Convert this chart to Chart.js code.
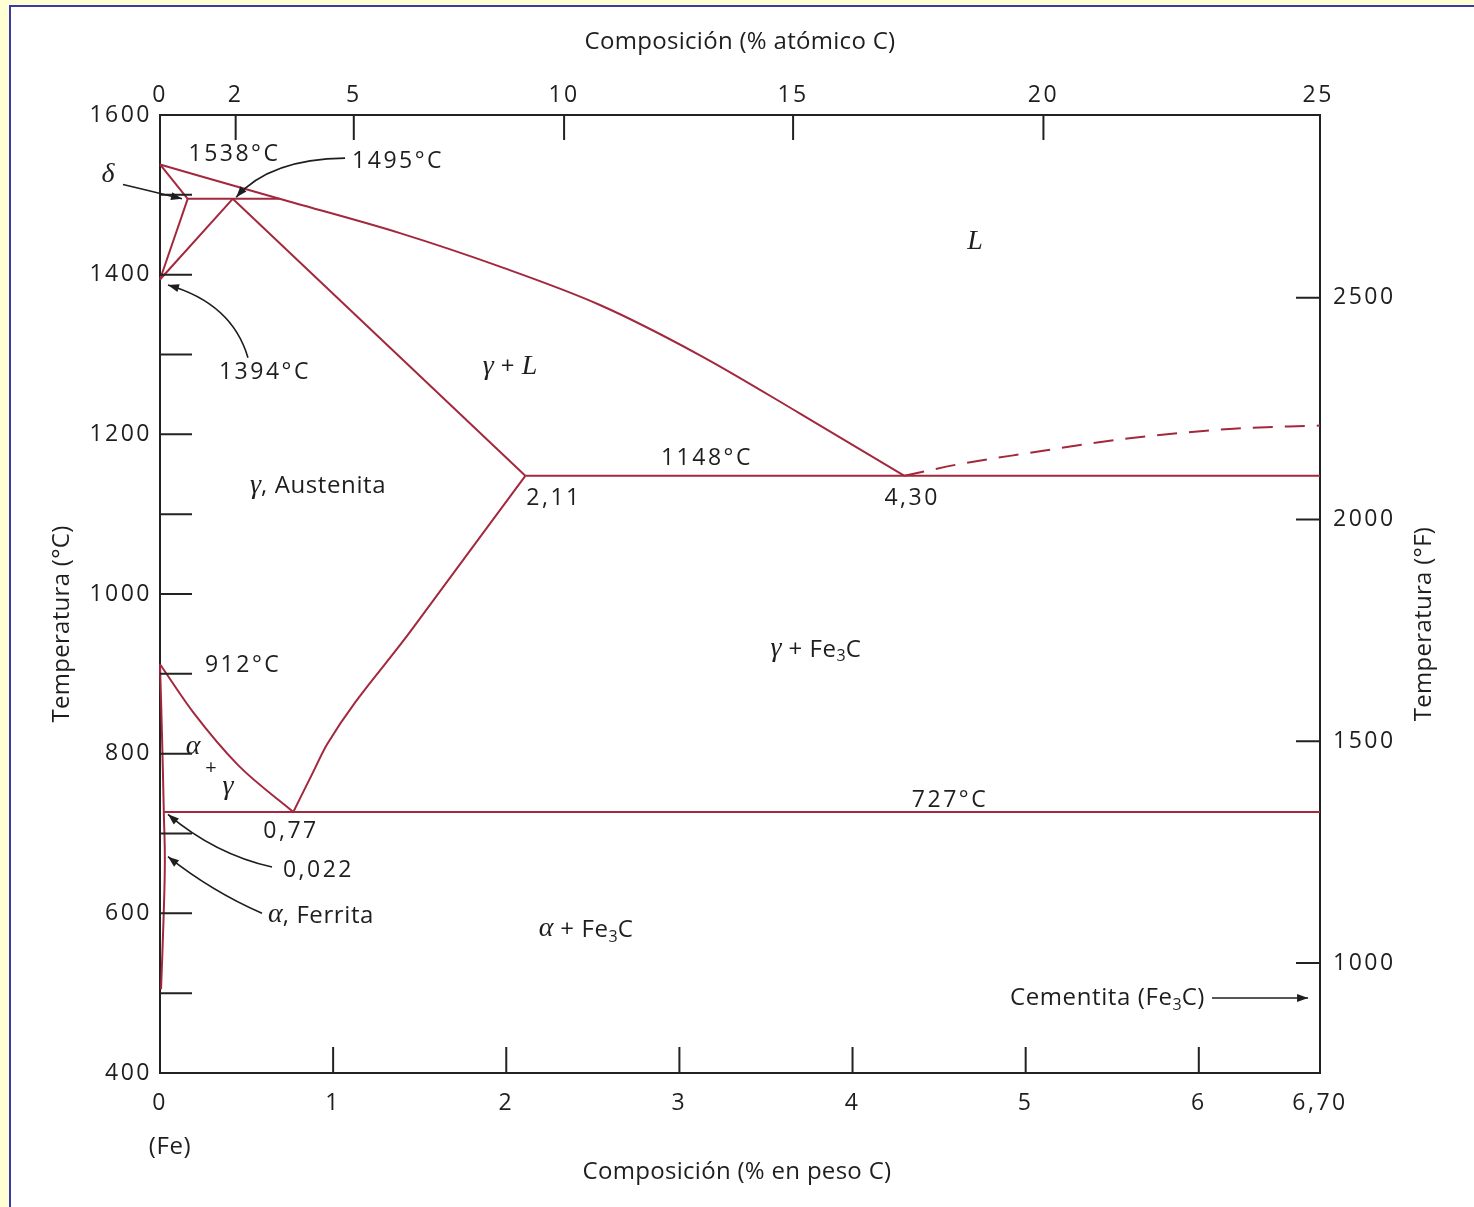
<!DOCTYPE html>
<html lang="es">
<head>
<meta charset="utf-8">
<title>Diagrama de fases hierro–carburo de hierro</title>
<script src="https://cdn.jsdelivr.net/npm/chart.js@4.4.1/dist/chart.umd.min.js"></script>
<style>
  html, body { margin: 0; padding: 0; width: 1474px; height: 1207px; overflow: hidden; background: #FFFFD6; }
  #sheet { position: absolute; left: 9px; top: 5px; width: 1520px; height: 1260px; background: #fff;
           border-left: 2px solid #3A3AA6; border-top: 2px solid #3A3AA6; }
  #c { position: absolute; left: 0; top: 0; }
</style>
</head>
<body>
<div id="sheet"></div>
<canvas id="c" width="1474" height="1207"></canvas>
<script>
// ---- Phase boundaries of the Fe–Fe3C system: [wt% C, °C] ----
const liquidus      = [[0,1538],[0.69,1495],[1.386,1452],[1.964,1410],[2.541,1362],[3.119,1299],[3.697,1226],[4.30,1148]];
const deltaSolidus  = [[0,1538],[0.16,1495]];
const deltaSolvus   = [[0.16,1495],[0,1394]];
const gammaDelta    = [[0,1394],[0.42,1495]];
const peritectic    = [[0.16,1495],[0.69,1495]];
const gammaSolidus  = [[0.42,1495],[2.11,1148]];
const eutectic      = [[2.11,1148],[6.7,1148]];
const cementiteLiq  = [[4.30,1148],[4.6,1162],[5.0,1176],[5.6,1195],[6.2,1207],[6.7,1211]];
const a3Line        = [[0,912],[0.191,852],[0.454,785],[0.77,727]];
const acmLine       = [[0.77,727],[0.88,775],[0.966,812],[1.453,955],[2.11,1148]];
const alphaSolvus   = [[0,912],[0.012,820],[0.022,727],[0.028,665],[0.02,590],[0.006,505]];
const eutectoid     = [[0.022,727],[6.7,727]];

// ---- Axis ticks ----
const weightTicks       = [0, 1, 2, 3, 4, 5, 6, 6.7];
const weightTickLabels  = ['0', '1', '2', '3', '4', '5', '6', '6,70'];
const atomicTicks       = [0, 2, 5, 10, 15, 20, 25];
const celsiusTicks      = [400, 600, 800, 1000, 1200, 1400, 1600];
const celsiusMinorTicks = [500, 600, 700, 800, 900, 1000, 1100, 1200, 1300, 1400, 1500];
const fahrenheitTicks   = [1000, 1500, 2000, 2500];

// atomic % C -> weight % C (Fe = 55.845, C = 12.011)
const atToWt = a => { const f = a / 100; return 100 * 12.011 * f / (12.011 * f + 55.845 * (1 - f)); };
const cToF = c => c * 9 / 5 + 32;

// ---- Region labels and call-outs (positions in wt% C / °C) ----
const notes = [
  { at: [0.43, 1550],  parts: [['1538°C', 'num']] },
  { at: [1.375, 1542], parts: [['1495°C', 'num']] },
  { at: [-0.30, 1524], parts: [['δ', 'gr']] },
  { at: [0.606, 1278], parts: [['1394°C', 'num']] },
  { at: [4.707, 1440], parts: [['L', 'gr']] },
  { at: [2.022, 1284], parts: [['γ', 'gr'], [' + ', 'txt'], ['L', 'gr']] },
  { at: [0.913, 1135], parts: [['γ', 'gr'], [', Austenita', 'txt']] },
  { at: [3.159, 1170], parts: [['1148°C', 'num']] },
  { at: [2.276, 1120], parts: [['2,11', 'num']] },
  { at: [4.344, 1120], parts: [['4,30', 'num']] },
  { at: [0.48, 911],   parts: [['912°C', 'num']] },
  { at: [3.789, 930],  parts: [['γ', 'gr'], [' + Fe', 'txt'], ['3', 'sub'], ['C', 'txt']] },
  { at: [0.191, 807],  parts: [['α', 'gr']] },
  { at: [0.295, 782],  parts: [['+', 'small']] },
  { at: [0.393, 757],  parts: [['γ', 'gr']] },
  { at: [4.563, 742],  parts: [['727°C', 'num']] },
  { at: [0.757, 702],  parts: [['0,77', 'num']] },
  { at: [0.71, 654],   parts: [['0,022', 'num']], align: 'left' },
  { at: [0.624, 597],  parts: [['α', 'gr'], [', Ferrita', 'txt']], align: 'left' },
  { at: [2.461, 579],  parts: [['α', 'gr'], [' + Fe', 'txt'], ['3', 'sub'], ['C', 'txt']] },
  { at: [6.036, 494],  parts: [['Cementita (Fe', 'txt'], ['3', 'sub'], ['C)', 'txt']], align: 'right' },
  { at: [0.058, 307],  parts: [['(Fe)', 'txt']] }
];

const pointers = [
  { from: [1.069, 1546], via: [0.635, 1545], to: [0.44, 1497] },
  { from: [-0.214, 1513], via: [-0.058, 1505], to: [0.127, 1495] },
  { from: [0.508, 1296], via: [0.416, 1364], to: [0.046, 1387] },
  { from: [0.647, 658],  via: [0.318, 674],  to: [0.046, 724] },
  { from: [0.589, 600],  via: [0.295, 628],  to: [0.046, 671] },
  { from: [6.076, 494],  via: [6.35, 494],   to: [6.631, 494] }
];

// ---- Styling ----
const RED = '#A3283D';
const INK = '#1E1E1E';
const AXIS = '#222';
const SANS = '"Open Sans", "Liberation Sans", sans-serif';
const SERIF = '"Liberation Serif", "DejaVu Serif", serif';
const STYLES = {
  txt:   { font: `24px ${SANS}`, spacing: '0.6px', dy: 0 },
  num:   { font: `23px ${SANS}`, spacing: '2.5px', dy: 0 },
  gr:    { font: `italic 28px ${SERIF}`, spacing: '0px', dy: -1 },
  sub:   { font: `16px ${SANS}`, spacing: '0px', dy: 7 },
  small: { font: `20px ${SANS}`, spacing: '0px', dy: 0 }
};

const toXY = arr => arr.map(([x, y]) => ({ x, y }));
const boundary = (label, data, extra) => Object.assign({
  label, data: toXY(data), borderColor: RED, borderWidth: 2, pointRadius: 0,
  tension: 0, fill: false, clip: false, xAxisID: 'x', yAxisID: 'y'
}, extra || {});
const smooth = { cubicInterpolationMode: 'monotone' };

function drawRich(ctx, parts, px, py, align) {
  let total = 0;
  const widths = parts.map(([t, k]) => {
    ctx.font = STYLES[k].font; ctx.letterSpacing = STYLES[k].spacing;
    const w = ctx.measureText(t).width; total += w; return w;
  });
  let cx = align === 'left' ? px : align === 'right' ? px - total : px - total / 2;
  ctx.textAlign = 'left';
  ctx.textBaseline = 'middle';
  parts.forEach(([t, k], i) => {
    ctx.font = STYLES[k].font; ctx.letterSpacing = STYLES[k].spacing;
    ctx.fillText(t, cx, py + STYLES[k].dy);
    cx += widths[i];
  });
  ctx.letterSpacing = '0px';
}

function drawPointer(ctx, p0, c, p2) {
  ctx.beginPath();
  ctx.moveTo(p0[0], p0[1]);
  ctx.quadraticCurveTo(c[0], c[1], p2[0], p2[1]);
  ctx.stroke();
  const ang = Math.atan2(p2[1] - c[1], p2[0] - c[0]);
  const L = 11, W = 4;
  ctx.beginPath();
  ctx.moveTo(p2[0], p2[1]);
  ctx.lineTo(p2[0] - L * Math.cos(ang) + W * Math.sin(ang), p2[1] - L * Math.sin(ang) - W * Math.cos(ang));
  ctx.lineTo(p2[0] - L * Math.cos(ang) - W * Math.sin(ang), p2[1] - L * Math.sin(ang) + W * Math.cos(ang));
  ctx.closePath();
  ctx.fill();
}

const annotations = {
  id: 'phaseAnnotations',
  beforeDraw(chart) {
    chart.ctx.letterSpacing = '2.5px';   // wide-set numerals on the axes
  },
  afterDraw(chart) {
    const ctx = chart.ctx;
    const { x, x2, y, y2 } = chart.scales;
    const a = chart.chartArea;
    const P = (w, t) => [x.getPixelForValue(w), y.getPixelForValue(t)];
    ctx.save();
    ctx.letterSpacing = '0px';

    // inner tick marks
    ctx.strokeStyle = AXIS;
    ctx.lineWidth = 2;
    ctx.beginPath();
    celsiusMinorTicks.forEach(t => { const py = y.getPixelForValue(t); ctx.moveTo(a.left, py); ctx.lineTo(a.left + 32, py); });
    weightTicks.slice(1, -1).forEach(w => { const px = x.getPixelForValue(w); ctx.moveTo(px, a.bottom); ctx.lineTo(px, a.bottom - 26); });
    atomicTicks.slice(1, -1).forEach(at => { const px = x2.getPixelForValue(atToWt(at)); ctx.moveTo(px, a.top); ctx.lineTo(px, a.top + 25); });
    fahrenheitTicks.forEach(f => { const py = y2.getPixelForValue(f); ctx.moveTo(a.right, py); ctx.lineTo(a.right - 24, py); });
    ctx.stroke();

    // call-out arrows
    ctx.strokeStyle = INK;
    ctx.fillStyle = INK;
    ctx.lineWidth = 1.6;
    pointers.forEach(p => drawPointer(ctx, P(...p.from), P(...p.via), P(...p.to)));

    // region and point labels
    ctx.fillStyle = INK;
    notes.forEach(n => { const [px, py] = P(...n.at); drawRich(ctx, n.parts, px, py, n.align); });

    // axis titles
    ctx.font = `24px ${SANS}`;
    ctx.letterSpacing = '0.3px';
    ctx.textAlign = 'center';
    ctx.textBaseline = 'middle';
    ctx.fillText('Composición (% atómico C)', 740, 42);
    ctx.fillText('Composición (% en peso C)', 737, 1172);
    ctx.save(); ctx.translate(62, 624); ctx.rotate(-Math.PI / 2); ctx.fillText('Temperatura (°C)', 0, 0); ctx.restore();
    ctx.save(); ctx.translate(1424, 624); ctx.rotate(-Math.PI / 2); ctx.fillText('Temperatura (°F)', 0, 0); ctx.restore();
    ctx.restore();
  }
};

const tickFont = { family: SANS, size: 23 };
const noGrid = { display: false, drawTicks: false };
const frame = { display: true, color: AXIS, width: 2 };
const plain = v => String(v);

new Chart(document.getElementById('c'), {
  type: 'line',
  data: {
    datasets: [
      boundary('Líquidus', liquidus, smooth),
      boundary('Sólidus δ', deltaSolidus),
      boundary('Solvus δ', deltaSolvus),
      boundary('γ / δ+γ', gammaDelta),
      boundary('Peritéctica 1495 °C', peritectic),
      boundary('Sólidus γ', gammaSolidus),
      boundary('Eutéctica 1148 °C', eutectic),
      boundary('Líquidus Fe3C', cementiteLiq, Object.assign({ borderDash: [20, 12] }, smooth)),
      boundary('A3', a3Line, smooth),
      boundary('Acm', acmLine, smooth),
      boundary('Solvus α', alphaSolvus, { tension: 0.4 }),
      boundary('Eutectoide 727 °C', eutectoid)
    ]
  },
  options: {
    responsive: false,
    devicePixelRatio: 1,
    animation: false,
    events: [],
    layout: { padding: 0 },
    plugins: { legend: { display: false }, tooltip: { enabled: false } },
    scales: {
      x: {
        type: 'linear', position: 'bottom', min: 0, max: 6.7,
        afterBuildTicks: s => { s.ticks = weightTicks.map(v => ({ value: v })); },
        afterFit: s => { s.height = 134; },
        ticks: { callback: (v, i) => weightTickLabels[i], padding: 17, font: tickFont, color: INK, maxRotation: 0, autoSkip: false },
        grid: noGrid, border: frame
      },
      x2: {
        type: 'linear', position: 'top', min: 0, max: 6.7,
        afterBuildTicks: s => { s.ticks = atomicTicks.map(at => ({ value: atToWt(at) })); },
        afterFit: s => { s.height = 115; },
        ticks: { callback: (v, i) => String(atomicTicks[i]), padding: 6, font: tickFont, color: INK, maxRotation: 0, autoSkip: false },
        grid: noGrid, border: frame
      },
      y: {
        type: 'linear', position: 'left', min: 400, max: 1600,
        afterBuildTicks: s => { s.ticks = celsiusTicks.map(v => ({ value: v })); },
        afterFit: s => { s.width = 160; },
        ticks: { callback: plain, padding: 8, font: tickFont, color: INK, autoSkip: false },
        grid: noGrid, border: frame
      },
      y2: {
        type: 'linear', position: 'right', min: cToF(400), max: cToF(1600),
        afterBuildTicks: s => { s.ticks = fahrenheitTicks.map(v => ({ value: v })); },
        afterFit: s => { s.width = 154; },
        ticks: { callback: plain, padding: 13, font: tickFont, color: INK, autoSkip: false },
        grid: noGrid, border: frame
      }
    }
  },
  plugins: [annotations]
});
</script>
</body>
</html>
